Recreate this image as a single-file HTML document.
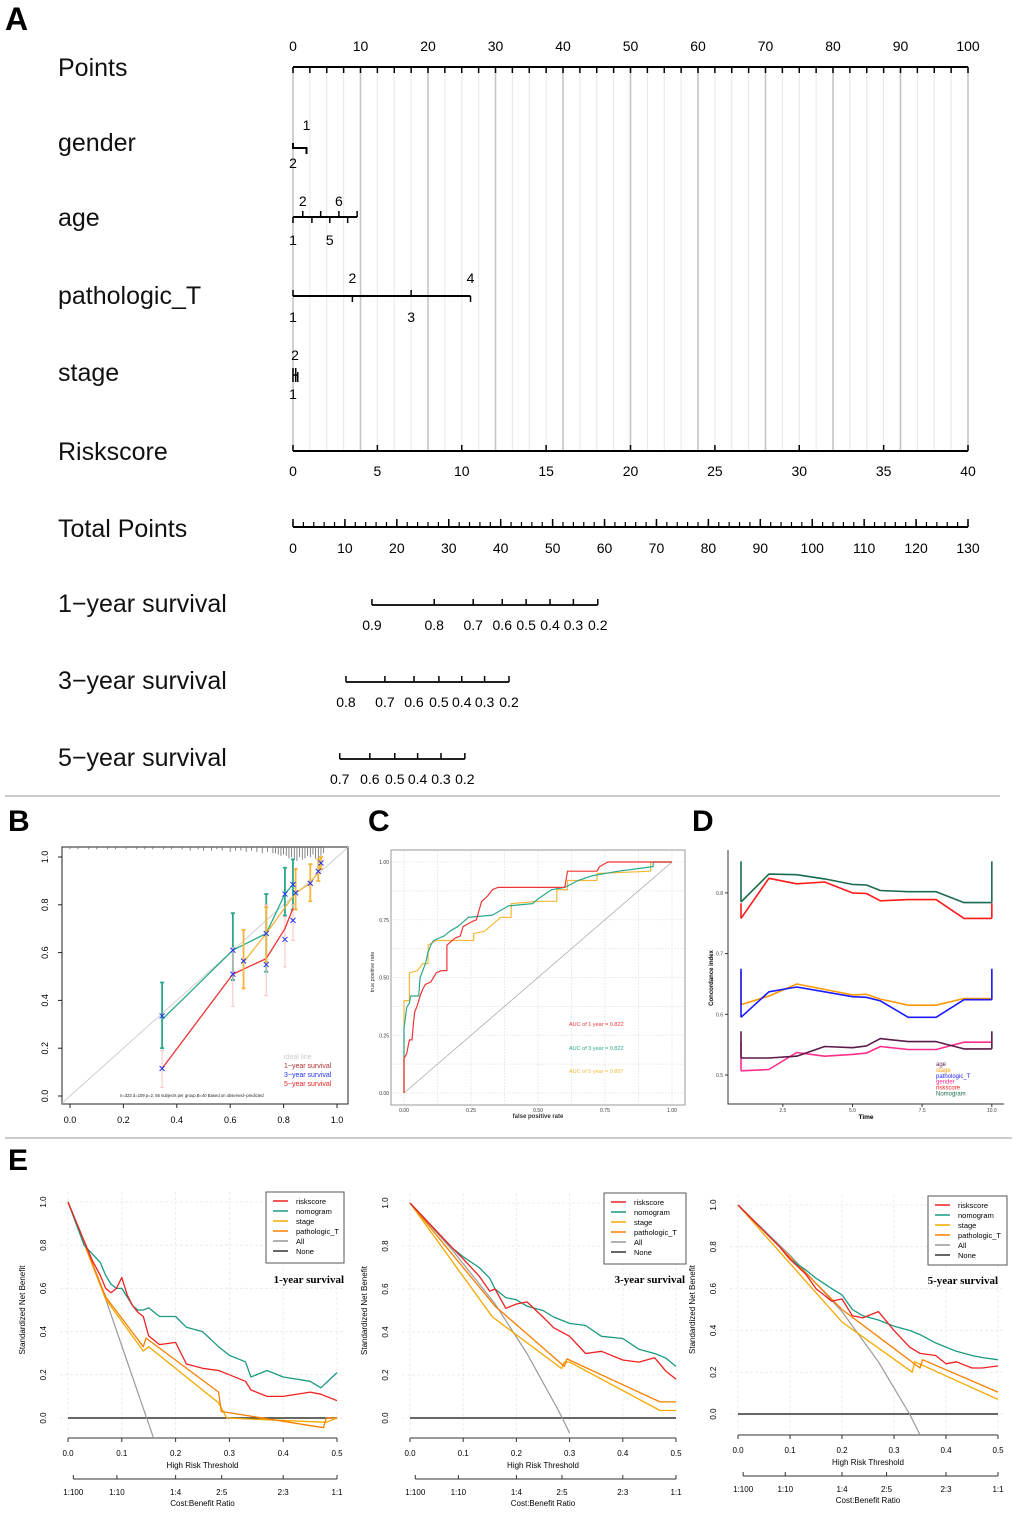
<!DOCTYPE html>
<html><head><meta charset="utf-8">
<style>
html,body{margin:0;padding:0;background:#fff;}
svg{display:block;font-family:"Liberation Sans",Arial,sans-serif;}
</style></head>
<body>
<svg id="fig" width="1020" height="1515" viewBox="0 0 1020 1515" xmlns="http://www.w3.org/2000/svg">
<defs>
<clipPath id="clipB"><rect x="62" y="847" width="286" height="257"/></clipPath>
<clipPath id="clipE1"><rect x="50" y="1190" width="300" height="248"/></clipPath>
<clipPath id="clipE2"><rect x="392" y="1190" width="300" height="248"/></clipPath>
<clipPath id="clipE3"><rect x="720" y="1190" width="295" height="245"/></clipPath>
</defs>
<text x="5" y="30" font-size="32" font-weight="bold">A</text>
<text x="8" y="831" font-size="30" font-weight="bold">B</text>
<text x="368" y="831" font-size="30" font-weight="bold">C</text>
<text x="692" y="831" font-size="30" font-weight="bold">D</text>
<text x="8" y="1170" font-size="30" font-weight="bold">E</text>
<line x1="5" y1="796" x2="1000" y2="796" stroke="#999" stroke-width="1"/>
<line x1="5" y1="1138" x2="1012" y2="1138" stroke="#999" stroke-width="1"/>
<g id="gA"></g>
<g id="gB"></g>
<g id="gC"></g>
<g id="gD"></g>
<g id="gE"></g>
</svg>
<script>
// ---------- data ----------
const nomoLabels = ["Points","gender","age","pathologic_T","stage","Riskscore","Total Points","1\u2212year survival","3\u2212year survival","5\u2212year survival"];
const pointTicks = [0,10,20,30,40,50,60,70,80,90,100];
const riskTicks = [0,5,10,15,20,25,30,35,40];
const totalTicks = [0,10,20,30,40,50,60,70,80,90,100,110,120,130];
const surv1Labels = ["0.9","0.8","0.7","0.6","0.5","0.4","0.3","0.2"];
const surv1Total = [15.2,27.2,34.7,40.3,44.9,49.5,54.0,58.7];
const surv3Labels = ["0.8","0.7","0.6","0.5","0.4","0.3","0.2"];
const surv3Total = [10.2,17.7,23.3,28.1,32.5,36.9,41.6];
const surv5Labels = ["0.7","0.6","0.5","0.4","0.3","0.2"];
const surv5Total = [9.0,14.8,19.6,24.0,28.5,33.1];
const ageLevels = ["1","2","3","4","5","6","7","8"];
const agePts = [0,1.45,2.8,4.1,5.45,6.8,8.1,9.5];
const ptLevels = ["1","2","3","4"];
const ptPts = [0,8.8,17.5,26.3];

const calX1 = [0.345,0.61,0.735,0.805,0.835];
const calY1 = [0.32,0.61,0.68,0.845,0.885];
const calLo1 = [0.20,0.485,0.52,0.755,0.78];
const calHi1 = [0.475,0.765,0.845,0.955,0.99];
const calX2 = [0.345,0.61,0.735,0.805,0.835];
const calY2 = [0.115,0.51,0.575,0.70,0.785];
const calLo2 = [0.035,0.375,0.42,0.54,0.65];
const calHi2 = [0.19,0.62,0.80,0.75,0.80];
const calX3 = [0.65,0.735,0.845,0.90,0.93,0.94];
const calY3 = [0.56,0.68,0.85,0.89,0.94,0.975];
const calLo3 = [0.45,0.56,0.78,0.815,0.90,0.95];
const calHi3 = [0.695,0.79,0.95,0.97,0.99,1.0];
const calMarksX = [0.345,0.345,0.61,0.61,0.65,0.735,0.735,0.805,0.805,0.835,0.835,0.845,0.90,0.93,0.94];
const calMarksY = [0.335,0.115,0.61,0.51,0.565,0.68,0.55,0.845,0.655,0.885,0.735,0.85,0.89,0.94,0.975];
const rugX = [0.0,0.03,0.07,0.1,0.14,0.17,0.21,0.25,0.28,0.31,0.35,0.38,0.42,0.45,0.48,0.5,0.53,0.55,0.57,0.6,0.62,0.64,0.66,0.68,0.7,0.72,0.74,0.76,0.77,0.78,0.79,0.8,0.81,0.82,0.83,0.84,0.85,0.86,0.87,0.88,0.89,0.9,0.91,0.92,0.93,0.94,0.95];
const rugH = [1,1,1,1,1,1,1,1,1,1,1,1,1,2,1,2,2,1,2,3,2,2,3,2,3,4,3,4,4,5,6,5,6,8,7,9,10,7,9,8,6,7,5,8,10,6,4];

const rocX1 = [0,0,0.01,0.015,0.02,0.03,0.035,0.04,0.05,0.06,0.07,0.08,0.1,0.12,0.14,0.16,0.16,0.19,0.21,0.22,0.25,0.27,0.28,0.29,0.31,0.33,0.35,0.6,0.61,0.72,0.73,0.76,1];
const rocY1 = [0,0.15,0.17,0.2,0.23,0.23,0.3,0.35,0.38,0.42,0.45,0.47,0.48,0.52,0.53,0.53,0.64,0.67,0.68,0.72,0.74,0.75,0.79,0.83,0.85,0.88,0.89,0.89,0.96,0.96,0.98,1,1];
const rocX3 = [0,0,0.01,0.02,0.025,0.055,0.06,0.07,0.08,0.09,0.1,0.11,0.15,0.17,0.2,0.22,0.24,0.33,0.36,0.39,0.48,0.5,0.55,0.6,0.65,0.7,0.8,0.93,0.93,1];
const rocY3 = [0,0.28,0.37,0.39,0.42,0.42,0.5,0.53,0.56,0.61,0.64,0.66,0.68,0.70,0.72,0.74,0.76,0.77,0.79,0.81,0.82,0.84,0.88,0.89,0.92,0.94,0.96,0.98,1,1];
const rocX5 = [0,0,0.02,0.02,0.05,0.07,0.09,0.09,0.12,0.26,0.26,0.3,0.33,0.36,0.4,0.4,0.5,0.57,0.57,0.61,0.61,0.72,0.72,0.92,0.92,1];
const rocY5 = [0,0.4,0.4,0.52,0.53,0.56,0.56,0.64,0.66,0.66,0.69,0.70,0.73,0.76,0.76,0.82,0.83,0.83,0.88,0.88,0.92,0.92,0.95,0.96,1,1];
const rocTicks = ["0.00","0.25","0.50","0.75","1.00"];

const ciTime = [1,2,3,4,5,5.5,6,7,8,9,10];
const ciNomogram = [0.785,0.831,0.830,0.823,0.814,0.813,0.804,0.802,0.802,0.784,0.784];
const ciRisk = [0.758,0.824,0.815,0.818,0.800,0.799,0.787,0.789,0.789,0.758,0.758];
const ciStage = [0.616,0.630,0.650,0.641,0.632,0.633,0.625,0.615,0.615,0.626,0.626];
const ciPathT = [0.595,0.637,0.645,0.637,0.629,0.628,0.622,0.595,0.595,0.624,0.624];
const ciAge = [0.528,0.528,0.531,0.547,0.545,0.548,0.560,0.555,0.555,0.543,0.543];
const ciGender = [0.507,0.509,0.537,0.531,0.534,0.536,0.547,0.542,0.542,0.554,0.554];
const ciCap = [0.852,0.783,0.670,0.675,0.572,0.554];

const dca1T = [0,0.03,0.045,0.06,0.07,0.08,0.09,0.1,0.11,0.12,0.13,0.14,0.15,0.17,0.2,0.22,0.25,0.28,0.3,0.33,0.34,0.37,0.4,0.45,0.47,0.5];
const dca1Risk = [1,0.82,0.73,0.66,0.6,0.58,0.6,0.65,0.57,0.52,0.49,0.47,0.38,0.34,0.35,0.25,0.23,0.22,0.20,0.17,0.13,0.10,0.10,0.12,0.11,0.08];
const dca1Nomo = [1,0.80,0.76,0.72,0.66,0.62,0.60,0.60,0.56,0.52,0.50,0.50,0.51,0.47,0.47,0.42,0.40,0.33,0.29,0.26,0.19,0.22,0.19,0.17,0.14,0.21];
const dca1ST = [0,0.07,0.14,0.15,0.28,0.295,0.48,0.5];
const dca1Stage = [1,0.55,0.31,0.33,0.07,0,-0.02,0];
const dca1PT = [0,0.07,0.14,0.145,0.28,0.285,0.475,0.48,0.5];
const dca1Path = [1,0.56,0.33,0.37,0.12,0.03,-0.045,0,0];
const dca1AT = [0,0.07,0.16];
const dca1All = [1,0.55,-0.1];

const dca2T = [0,0.08,0.1,0.13,0.15,0.16,0.18,0.2,0.22,0.25,0.27,0.3,0.33,0.36,0.4,0.43,0.46,0.48,0.5];
const dca2Risk = [1,0.79,0.74,0.66,0.59,0.60,0.51,0.53,0.54,0.47,0.42,0.38,0.30,0.31,0.27,0.26,0.28,0.22,0.18];
const dca2Nomo = [1,0.79,0.75,0.70,0.65,0.60,0.56,0.55,0.52,0.50,0.47,0.44,0.43,0.38,0.37,0.32,0.30,0.28,0.24];
const dca2ST = [0,0.155,0.285,0.29,0.3,0.47,0.5];
const dca2Stage = [1,0.47,0.23,0.26,0.26,0.035,0.035];
const dca2PT = [0,0.16,0.29,0.295,0.47,0.5];
const dca2Path = [1,0.52,0.24,0.275,0.075,0.075];
const dca2AT = [0,0.08,0.16,0.22,0.28,0.3];
const dca2All = [1,0.78,0.53,0.30,0.03,-0.07];

const dca3T = [0,0.08,0.1,0.13,0.15,0.18,0.2,0.22,0.24,0.27,0.3,0.33,0.35,0.38,0.4,0.42,0.45,0.47,0.5];
const dca3Risk = [1,0.80,0.74,0.67,0.60,0.54,0.55,0.47,0.46,0.49,0.40,0.32,0.29,0.28,0.24,0.25,0.22,0.22,0.23];
const dca3Nomo = [1,0.80,0.74,0.69,0.65,0.60,0.57,0.50,0.47,0.45,0.42,0.40,0.38,0.34,0.32,0.30,0.28,0.27,0.26];
const dca3ST = [0,0.2,0.335,0.34,0.5];
const dca3Stage = [1,0.44,0.20,0.25,0.07];
const dca3PT = [0,0.2,0.35,0.355,0.5];
const dca3Path = [1,0.50,0.22,0.26,0.105];
const dca3AT = [0,0.1,0.2,0.27,0.33,0.35];
const dca3All = [1,0.76,0.49,0.25,0.0,-0.1];

const xTicksE = ["0.0","0.1","0.2","0.3","0.4","0.5"];
const yTicksE = ["0.0","0.2","0.4","0.6","0.8","1.0"];
const cbLabels = ["1:100","1:10","1:4","2:5","2:3","1:1"];
const cbThresh = [0.0099,0.0909,0.2,0.2857,0.4,0.5];
const dcaLegend = ["riskscore","nomogram","stage","pathologic_T","All","None"];
const dcaColors = ["#ee2222","#1a9a82","#f5a800","#f77f00","#999999","#333333"];

// ---------- helpers ----------
const NS = "http://www.w3.org/2000/svg";
function mk(tag, parent, attrs){
  const e = document.createElementNS(NS, tag);
  for (const k in attrs) e.setAttribute(k, attrs[k]);
  parent.appendChild(e);
  return e;
}
function txt(parent, x, y, s, size, extra){
  const a = Object.assign({x:x, y:y, "font-size":size}, extra||{});
  const t = mk("text", parent, a);
  t.textContent = s;
  return t;
}
function poly(parent, xs, ys, sx, sy, color, w){
  const pts = xs.map((v,i)=> sx(v).toFixed(1)+","+sy(ys[i]).toFixed(1)).join(" ");
  return mk("polyline", parent, {points:pts, fill:"none", stroke:color, "stroke-width":w, "stroke-linejoin":"round"});
}

// ---------- Panel A ----------
(function(){
  const g = document.getElementById("gA");
  const x0 = 293, x1 = 968;
  const px = v => x0 + v*(x1-x0)/100;
  const rx = v => x0 + v*(x1-x0)/40;
  const tx = v => x0 + v*(x1-x0)/130;
  const rowY = [67,142,217,295,372,451,528,603,680,757];
  nomoLabels.forEach((s,i)=>{
    const t = txt(g, 58, rowY[i]+9, s, 25, {fill:"#111"});
    
    
  });
  for (let v=0; v<=100; v+=2.5){
    const major = Math.abs(v%10)<1e-6;
    const l = mk("line", g, {x1:px(v), y1:67, x2:px(v), y2:451, stroke: major?"#c4c4c4":"#e6e6e6", "stroke-width": major?1.6:1});
    
    
  }
  const pa = mk("line", g, {x1:x0, y1:67, x2:x1, y2:67, stroke:"#000", "stroke-width":2});
  
  
  for (let v=0; v<=100; v+=2.5){
    mk("line", g, {x1:px(v), y1:67, x2:px(v), y2:73, stroke:"#000", "stroke-width":1.5});
  }
  pointTicks.forEach(v=>{
    const t = txt(g, px(v), 51, String(v), 14, {"text-anchor":"middle"});
    
    
  });
  const gl = mk("path", g, {d:`M${px(0)} 143 V148 H${px(2)} V154`, fill:"none", stroke:"#000", "stroke-width":2});
  
  
  txt(g, px(2), 130, "1", 14, {"text-anchor":"middle"});
  txt(g, px(0), 168, "2", 14, {"text-anchor":"middle"});
  const al = mk("line", g, {x1:px(agePts[0]), y1:217, x2:px(agePts[agePts.length-1]), y2:217, stroke:"#000", "stroke-width":2});
  
  
  agePts.forEach((p,i)=>{
    const up = i%2===1;
    mk("line", g, {x1:px(p), y1:217, x2:px(p), y2: up?211:223, stroke:"#000", "stroke-width":1.5});
    if (i===0||i===4) txt(g, px(p), 245, ageLevels[i], 14, {"text-anchor":"middle"});
    if (i===1||i===5) txt(g, px(p), 206, ageLevels[i], 14, {"text-anchor":"middle"});
  });
  const ptl = mk("line", g, {x1:px(ptPts[0]), y1:296, x2:px(ptPts[3]), y2:296, stroke:"#000", "stroke-width":2});
  
  
  ptPts.forEach((p,i)=>{
    const up = i%2===0;
    mk("line", g, {x1:px(p), y1:296, x2:px(p), y2: up?290:302, stroke:"#000", "stroke-width":1.5});
    if (i%2===0) txt(g, px(p), 322, ptLevels[i], 14, {"text-anchor":"middle"});
    else txt(g, px(p), 283, ptLevels[i], 14, {"text-anchor":"middle"});
  });
  const st = mk("path", g, {d:`M${px(0)} 368 V382 M${px(0.4)} 368 V382 M${px(0.7)} 372 V382 M${px(0)} 375 H${px(0.7)}`, fill:"none", stroke:"#000", "stroke-width":1.5});
  
  
  txt(g, px(0.3), 360, "2", 14, {"text-anchor":"middle"});
  txt(g, px(0), 399, "1", 14, {"text-anchor":"middle"});
  const ra = mk("line", g, {x1:x0, y1:451, x2:x1, y2:451, stroke:"#000", "stroke-width":2});
  
  
  for (let v=0; v<=40; v+=5) mk("line", g, {x1:rx(v), y1:445, x2:rx(v), y2:451, stroke:"#000", "stroke-width":1.5});
  riskTicks.forEach(v=> txt(g, rx(v), 476, String(v), 14, {"text-anchor":"middle"}));
  const ta = mk("line", g, {x1:x0, y1:527, x2:x1, y2:527, stroke:"#000", "stroke-width":2});
  
  
  for (let v=0; v<=130; v+=2){
    mk("line", g, {x1:tx(v), y1:527, x2:tx(v), y2: 522, stroke:"#000", "stroke-width":1.2});
  }
  for (let v=0; v<=130; v+=10) mk("line", g, {x1:tx(v), y1:527, x2:tx(v), y2:519, stroke:"#000", "stroke-width":1.5});
  totalTicks.forEach(v=> txt(g, tx(v), 553, String(v), 14, {"text-anchor":"middle"}));
  [[surv1Total,surv1Labels,605],[surv3Total,surv3Labels,682],[surv5Total,surv5Labels,759]].forEach(([tp,lb,y],k)=>{
    const l = mk("line", g, {x1:tx(tp[0]), y1:y, x2:tx(tp[tp.length-1]), y2:y, stroke:"#000", "stroke-width":1.8});
    
    
    tp.forEach((v,i)=>{
      mk("line", g, {x1:tx(v), y1:y, x2:tx(v), y2:y-6, stroke:"#000", "stroke-width":1.5});
      txt(g, tx(v), y+25, lb[i], 14, {"text-anchor":"middle"});
    });
  });
})();

// ---------- Panel B ----------
(function(){
  const g = document.getElementById("gB");
  const bx = v => 70 + v*267, by = v => 1096 - v*239;
  const box = mk("rect", g, {x:62, y:847, width:286, height:257, fill:"none", stroke:"#222", "stroke-width":1});
  
  
  [0,0.2,0.4,0.6,0.8,1].forEach(v=>{
    mk("line", g, {x1:bx(v), y1:1104, x2:bx(v), y2:1108, stroke:"#222"});
    txt(g, bx(v), 1123, v.toFixed(1), 9, {"text-anchor":"middle"});
    mk("line", g, {x1:58, y1:by(v), x2:62, y2:by(v), stroke:"#222"});
    const t = txt(g, 48, by(v), v.toFixed(1), 9, {"text-anchor":"middle", transform:`rotate(-90 48 ${by(v)})`});
    
    
  });
  const cg = mk("g", g, {"clip-path":"url(#clipB)"});
  const d = mk("line", cg, {x1:bx(-0.05), y1:by(-0.05), x2:bx(1.05), y2:by(1.05), stroke:"#d0d0d0", "stroke-width":1});
  
  
  rugX.forEach((v,i)=> mk("line", cg, {x1:bx(v), y1:847, x2:bx(v), y2:847+rugH[i]*1.3+1, stroke:"#666", "stroke-width":0.8}));
  [[calX1,calY1,calLo1,calHi1,"#2aa88e"],[calX2,calY2,calLo2,calHi2,"#ee3333"],[calX3,calY3,calLo3,calHi3,"#f5b43a"]].forEach(([xs,ys,lo,hi,c],k)=>{
    xs.forEach((v,i)=>{
      const col = k===1 ? "#f6c2c2" : c;
      mk("path", cg, {d:`M${bx(v)} ${by(lo[i])} V${by(hi[i])} M${bx(v)-2} ${by(lo[i])} H${bx(v)+2} M${bx(v)-2} ${by(hi[i])} H${bx(v)+2}`, stroke:col, "stroke-width":k===1?1:1.8, fill:"none"});
    });
    const p = poly(cg, xs, ys, bx, by, c, 1.3);
    
    
  });
  calMarksX.forEach((v,i)=>{
    const x = bx(v), y = by(calMarksY[i]);
    const m = mk("path", g, {d:`M${x-2.5} ${y-2.5} L${x+2.5} ${y+2.5} M${x-2.5} ${y+2.5} L${x+2.5} ${y-2.5}`, stroke:"#2233ee", "stroke-width":1});
    
    
  });
  const lt = [["ideal line","#cccccc"],["1\u2212year survival","#b03030"],["3\u2212year survival","#2233ee"],["5\u2212year survival","#ee2222"]];
  lt.forEach((o,i)=>{
    const t = txt(g, 284, 1059+i*9, o[0], 7, {fill:o[1]});
    
    
  });
  txt(g, 120, 1097, "n=323 d=109 p=2, 55 subjects per group,B=40 Based on observed\u2212predicted", 4.2, {fill:"#222"});
})();

// ---------- Panel C ----------
(function(){
  const g = document.getElementById("gC");
  const cx = v => 404 + v*268, cy = v => 1093 - v*231;
  const fr = mk("rect", g, {x:391, y:850, width:294, height:255, fill:"#fff", stroke:"#999", "stroke-width":1});
  
  
  for (let v=0; v<=1.0001; v+=0.125){
    mk("line", g, {x1:cx(v), y1:851, x2:cx(v), y2:1104, stroke:"#e6e6e6", "stroke-width":0.8, "stroke-dasharray":"2,1"});
    mk("line", g, {x1:392, y1:cy(v), x2:684, y2:cy(v), stroke:"#e6e6e6", "stroke-width":0.8, "stroke-dasharray":"2,1"});
  }
  rocTicks.forEach((s,i)=>{
    const v = i*0.25;
    txt(g, cx(v), 1112, s, 5, {"text-anchor":"middle", fill:"#333"});
    txt(g, 389, cy(v)+2, s, 5, {"text-anchor":"end", fill:"#333"});
  });
  txt(g, 538, 1118, "false positive rate", 6, {"text-anchor":"middle", "font-weight":"bold", fill:"#333"});
  txt(g, 374, 972, "true positive rate", 5.5, {"text-anchor":"middle", fill:"#333", transform:"rotate(-90 374 972)"});
  const dg = mk("line", g, {x1:cx(0), y1:cy(0), x2:cx(1), y2:cy(1), stroke:"#aaa", "stroke-width":0.8});
  
  
  const r5 = poly(g, rocX5, rocY5, cx, cy, "#f5b83a", 1.2);
  
  
  const r3 = poly(g, rocX3, rocY3, cx, cy, "#2aa88e", 1.2);
  
  
  const r1 = poly(g, rocX1, rocY1, cx, cy, "#f03535", 1.2);
  
  
  [["AUC of 1 year =  0.822","#f03535",1026],["AUC of 3 year =  0.822","#2aa88e",1050],["AUC of 5 year =  0.807","#f5b83a",1073]].forEach(o=>{
    const t = txt(g, 569, o[2], o[0], 5.5, {fill:o[1]});
    
    
  });
})();

// ---------- Panel D ----------
(function(){
  const g = document.getElementById("gD");
  const dx = t => 741 + (t-1)*27.87, dy = v => 1075 - (v-0.5)*607;
  const ax = mk("path", g, {d:"M728 850 V1104 H1004", fill:"none", stroke:"#333", "stroke-width":1});
  
  
  [0.5,0.6,0.7,0.8].forEach(v=>{
    mk("line", g, {x1:725, y1:dy(v), x2:728, y2:dy(v), stroke:"#333"});
    txt(g, 723, dy(v)+2, v.toFixed(1), 5, {"text-anchor":"end", fill:"#444"});
  });
  [2.5,5.0,7.5,10.0].forEach(v=>{
    mk("line", g, {x1:dx(v), y1:1104, x2:dx(v), y2:1107, stroke:"#333"});
    txt(g, dx(v), 1112, v.toFixed(1), 5, {"text-anchor":"middle", fill:"#444"});
  });
  txt(g, 866, 1119, "Time", 6.5, {"text-anchor":"middle", "font-weight":"bold"});
  txt(g, 713, 978, "Concordance index", 6, {"text-anchor":"middle", "font-weight":"bold", transform:"rotate(-90 713 978)"});
  const series = [[ciGender,"#ff2d8c"],[ciAge,"#5a1a4a"],[ciStage,"#ff9900"],[ciPathT,"#1a1aff"],[ciRisk,"#ff1a1a"],[ciNomogram,"#1a6a4e"]];
  const caps = [ciCap[5],ciCap[4],ciCap[2],ciCap[3],ciCap[1],ciCap[0]];
  series.forEach(([vals,c],k)=>{
    const p = poly(g, ciTime, vals, dx, dy, c, 1.6);
    
    
    mk("line", g, {x1:dx(ciTime[0]), y1:dy(vals[0]), x2:dx(ciTime[0]), y2:dy(caps[k]), stroke:c, "stroke-width":1.6});
    mk("line", g, {x1:dx(ciTime[ciTime.length-1]), y1:dy(vals[vals.length-1]), x2:dx(ciTime[ciTime.length-1]), y2:dy(caps[k]), stroke:c, "stroke-width":1.6});
  });
  [["age","#5a1a4a"],["stage","#ff9900"],["pathologic_T","#1a1aff"],["gender","#ff2d8c"],["riskscore","#ff1a1a"],["Nomogram","#1a6a4e"]].forEach((o,i)=>{
    const t = txt(g, 936, 1066+i*5.9, o[0], 6, {fill:o[1]});
    
    
  });
})();

// ---------- Panel E ----------
(function(){
  const root = document.getElementById("gE");
  const cfgs = [
    {x0:68,x1:337,v1:1202,v0:1418,ax:1438,cb:1479,lx:266,ly:1192,lw:78,lh:71,title:"1-year survival",tx:344,ty:1283,clip:"clipE1",
     T:dca1T,R:dca1Risk,N:dca1Nomo,ST:dca1ST,S:dca1Stage,PT:dca1PT,P:dca1Path,AT:dca1AT,A:dca1All},
    {x0:410,x1:676,v1:1203,v0:1418,ax:1438,cb:1479,lx:604,ly:1193,lw:82,lh:71,title:"3-year survival",tx:685,ty:1283,clip:"clipE2",
     T:dca2T,R:dca2Risk,N:dca2Nomo,ST:dca2ST,S:dca2Stage,PT:dca2PT,P:dca2Path,AT:dca2AT,A:dca2All},
    {x0:738,x1:998,v1:1205,v0:1414,ax:1435,cb:1476,lx:928,ly:1196,lw:79,lh:69,title:"5-year survival",tx:998,ty:1284,clip:"clipE3",
     T:dca3T,R:dca3Risk,N:dca3Nomo,ST:dca3ST,S:dca3Stage,PT:dca3PT,P:dca3Path,AT:dca3AT,A:dca3All}
  ];
  cfgs.forEach((c,idx)=>{
    const g = mk("g", root, {});
    
    
    const sx = v => c.x0 + v*(c.x1-c.x0)/0.5, sy = v => c.v0 - v*(c.v0-c.v1);
    for (let v=0; v<=0.5001; v+=0.1) mk("line", g, {x1:sx(v), y1:c.v1-10, x2:sx(v), y2:c.ax-4, stroke:"#ececec", "stroke-width":1, "stroke-dasharray":"3,2"});
    for (let v=0; v<=1.0001; v+=0.2) mk("line", g, {x1:c.x0-8, y1:sy(v), x2:c.x1+6, y2:sy(v), stroke:"#ececec", "stroke-width":1, "stroke-dasharray":"3,2"});
    mk("line", g, {x1:c.x0, y1:c.ax, x2:c.x1, y2:c.ax, stroke:"#333", "stroke-width":1});
    xTicksE.forEach((s,i)=>{
      const x = sx(i*0.1);
      mk("line", g, {x1:x, y1:c.ax, x2:x, y2:c.ax+4, stroke:"#333"});
      txt(g, x, c.ax+18, s, 8, {"text-anchor":"middle"});
    });
    txt(g, (c.x0+c.x1)/2, c.ax+30, "High Risk Threshold", 8, {"text-anchor":"middle"});
    yTicksE.forEach((s,i)=>{
      const y = sy(i*0.2), x = c.x0-22;
      txt(g, x, y, s, 8, {"text-anchor":"middle", transform:`rotate(-90 ${x} ${y})`});
    });
    const yl = (c.v0+c.v1)/2, ylx = c.x0-43;
    txt(g, ylx, yl, "Standardized Net Benefit", 8, {"text-anchor":"middle", transform:`rotate(-90 ${ylx} ${yl})`});
    mk("line", g, {x1:sx(cbThresh[0]), y1:c.cb, x2:c.x1, y2:c.cb, stroke:"#333"});
    cbLabels.forEach((s,i)=>{
      const x = sx(cbThresh[i]);
      mk("line", g, {x1:x, y1:c.cb, x2:x, y2:c.cb-4, stroke:"#333"});
      txt(g, x, c.cb+16, s, 8, {"text-anchor":"middle"});
    });
    txt(g, (c.x0+c.x1)/2, c.cb+27, "Cost:Benefit Ratio", 8, {"text-anchor":"middle"});
    const cg = mk("g", g, {"clip-path":`url(#${c.clip})`});
    const none = mk("line", cg, {x1:c.x0, y1:sy(0), x2:c.x1, y2:sy(0), stroke:"#333", "stroke-width":1.6});
    
    
    const all = poly(cg, c.AT, c.A, sx, sy, "#999", 1.2);
    
    
    const pst = poly(cg, c.ST, c.S, sx, sy, "#f5a800", 1.3);
    
    
    const ppt = poly(cg, c.PT, c.P, sx, sy, "#f77f00", 1.3);
    
    
    const pn = poly(cg, c.T, c.N, sx, sy, "#1a9a82", 1.3);
    
    
    const pr = poly(cg, c.T, c.R, sx, sy, "#ee2222", 1.3);
    
    
    const lg = mk("g", g, {});
    
    
    mk("rect", lg, {x:c.lx, y:c.ly, width:c.lw, height:c.lh, fill:"#fff", stroke:"#555", "stroke-width":1});
    dcaLegend.forEach((s,i)=>{
      const y = c.ly+9+i*10;
      mk("line", lg, {x1:c.lx+7, y1:y, x2:c.lx+22, y2:y, stroke:dcaColors[i], "stroke-width":1.5});
      txt(lg, c.lx+30, y+3, s, 7.5);
    });
    const tt = txt(g, c.tx, c.ty, c.title, 11, {"text-anchor":"end", "font-weight":"bold", "font-family":"'Liberation Serif',serif"});
    
    
  });
})();
</script>
</body></html>
